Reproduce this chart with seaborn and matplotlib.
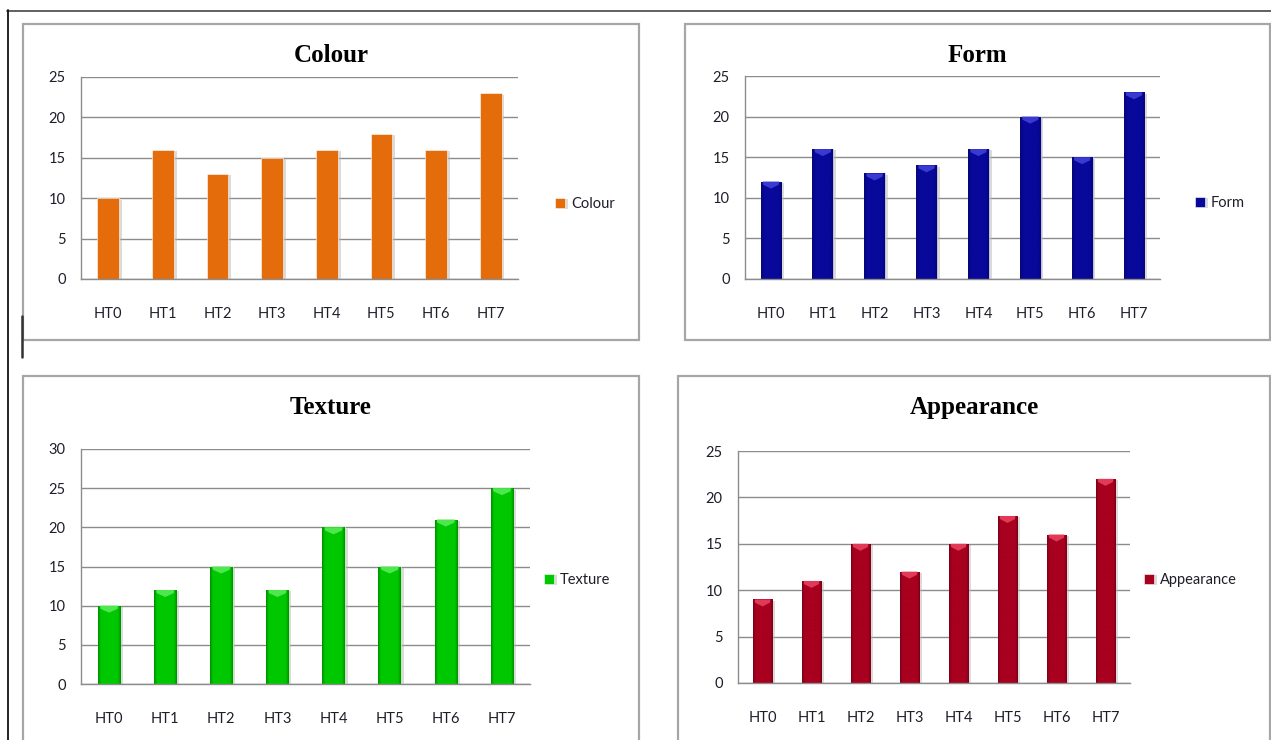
import numpy as np
import pandas as pd
import matplotlib
matplotlib.use("Agg")
import matplotlib.pyplot as plt
import seaborn as sns
from matplotlib.patches import Rectangle, Polygon
from matplotlib.lines import Line2D
from matplotlib.colors import to_rgb
from matplotlib import patheffects as pe

# ---- data ----
categories = ["HT0", "HT1", "HT2", "HT3", "HT4", "HT5", "HT6", "HT7"]
colour_scores = [10, 16, 13, 15, 16, 18, 16, 23]
form_scores = [12, 16, 13, 14, 16, 20, 15, 23]
texture_scores = [10, 12, 15, 12, 20, 15, 21, 25]
appearance_scores = [9, 11, 15, 12, 15, 18, 16, 22]

W, H = 1271, 740
sns.set_theme(style="white")
plt.rcParams["font.family"] = ["Lato", "DejaVu Sans"]

fig = plt.figure(figsize=(W / 100, H / 100), dpi=100)
fig.patch.set_facecolor("white")


def px_axes(l, t, r, b):
    return fig.add_axes([l / W, 1 - b / H, (r - l) / W, (b - t) / H])


def px_box(l, t, r, b, color="#a6a6a6", lw=1.6):
    rect = Rectangle((l / W, 1 - b / H), (r - l) / W, (b - t) / H,
                     transform=fig.transFigure, fill=False,
                     edgecolor=color, linewidth=lw, zorder=0)
    fig.add_artist(rect)


def px_line(x0, y0, x1, y1, color, lw):
    fig.add_artist(Line2D([x0 / W, x1 / W], [1 - y0 / H, 1 - y1 / H],
                          transform=fig.transFigure, color=color, linewidth=lw))


def shade_bars(ax, base, cap_color, axes_px_height):
    """Darken the bar sides slightly and add a lighter chevron cap on top."""
    c = np.array(to_rgb(base))
    xs = np.linspace(0, 1, 80)
    edge = np.clip((np.abs(xs - 0.5) * 2 - 0.7) / 0.3, 0, 1)
    f = -0.3 * edge ** 1.5
    img = np.clip(c[None, :] * (1 + f[:, None]), 0, 1)
    xlim, ylim = ax.get_xlim(), ax.get_ylim()
    d = (ylim[1] - ylim[0]) * 7 / axes_px_height
    for p in ax.patches:
        x0, y0 = p.get_x(), p.get_y()
        x1, y1 = x0 + p.get_width(), y0 + p.get_height()
        im = ax.imshow(img[None, :, :], extent=[x0, x1, y0, y1], aspect="auto",
                       interpolation="bilinear", zorder=p.get_zorder() + 0.1)
        im.set_clip_path(p)
        xc = (x0 + x1) / 2
        w = x1 - x0
        cap = Polygon([(x0 + 0.1 * w, y1), (x1 - 0.1 * w, y1), (x1 - 0.12 * w, y1 - 0.45 * d),
                       (xc, y1 - d), (x0 + 0.12 * w, y1 - 0.45 * d)],
                      closed=True, facecolor=cap_color, edgecolor="none",
                      zorder=p.get_zorder() + 0.2)
        ax.add_patch(cap)
    ax.set_xlim(xlim)
    ax.set_ylim(ylim)


panels = [
    dict(name="Colour", values=colour_scores, color="#e46c0a", cap=None, ymax=25,
         axes=(81, 77, 518, 279), box=(23, 24, 639, 340), title_y=55, legend=(555, 204)),
    dict(name="Form", values=form_scores, color="#08089a", cap="#3a3ad2", ymax=25,
         axes=(745, 76, 1160, 279), box=(685, 24, 1270, 340), title_y=55, legend=(1195, 203)),
    dict(name="Texture", values=texture_scores, color="#00c800", cap="#4ee84e", ymax=30,
         axes=(81, 449, 530, 684), box=(23, 376, 639, 760), title_y=407, legend=(544, 580)),
    dict(name="Appearance", values=appearance_scores, color="#a8001f", cap="#e03a58", ymax=25,
         axes=(738, 451, 1130, 683), box=(678, 376, 1270, 760), title_y=407, legend=(1144, 580)),
]

grid_c = "#8c8c8c"
text_c = "#1e1e2a"

for pnl in panels:
    px_box(*pnl["box"])
    ax = px_axes(*pnl["axes"])
    df = pd.DataFrame({"category": categories, "score": pnl["values"]})
    sns.barplot(data=df, x="category", y="score", color=pnl["color"], width=0.4,
                saturation=1, ax=ax, label=pnl["name"], edgecolor="white", linewidth=0.4)
    for p in ax.patches:
        p.set_path_effects([pe.SimplePatchShadow(offset=(2, -1), shadow_rgbFace="#b8b8b8", alpha=0.5),
                            pe.Normal()])
    ax.set_xlim(-0.5, len(categories) - 0.5)
    ax.set_ylim(0, pnl["ymax"])
    ax.set_yticks(np.arange(0, pnl["ymax"] + 1, 5))
    ax.set_axisbelow(True)
    ax.yaxis.grid(True, color=grid_c, linewidth=1.0)
    ax.xaxis.grid(False)
    for s in ["top", "right"]:
        ax.spines[s].set_visible(False)
    for s in ["left", "bottom"]:
        ax.spines[s].set_color(grid_c)
        ax.spines[s].set_linewidth(1.0)
    ax.set_xlabel("")
    ax.set_ylabel("")
    ax.set_xticks(np.arange(-0.5, len(categories)), minor=True)
    ax.tick_params(axis="x", which="major", length=0, pad=20, labelsize=10.5, labelcolor=text_c)
    ax.tick_params(axis="x", which="minor", length=5, width=1, color=grid_c, direction="out")
    ax.tick_params(axis="y", length=5, width=1, color=grid_c, direction="out",
                   pad=6, labelsize=10.5, labelcolor=text_c)
    ax.set_facecolor("white")
    if pnl["cap"] is not None:
        shade_bars(ax, pnl["color"], pnl["cap"], pnl["axes"][3] - pnl["axes"][1])

    l, t, r, b = pnl["box"]
    fig.text(((l + r) / 2) / W, 1 - pnl["title_y"] / H, pnl["name"],
             ha="center", va="center", fontsize=18, fontweight="bold",
             family=["Liberation Serif", "DejaVu Serif"], color="black")

    lx, ly = pnl["legend"]
    ax.legend(loc="center left", bbox_to_anchor=(lx / W, 1 - ly / H),
              bbox_transform=fig.transFigure, frameon=False, fontsize=10.5,
              handlelength=0.7, handleheight=0.7, handletextpad=0.4,
              borderpad=0, borderaxespad=0, labelcolor=text_c)

# outer page frame and cursor mark
px_line(7, 10.5, 1271, 10.5, "#555555", 1.3)
px_line(7.5, 10, 7.5, 740, "#111111", 1.3)
px_line(22, 316, 22, 357, "#333333", 1.8)

fig.savefig("out.png", dpi=100, facecolor="white")
